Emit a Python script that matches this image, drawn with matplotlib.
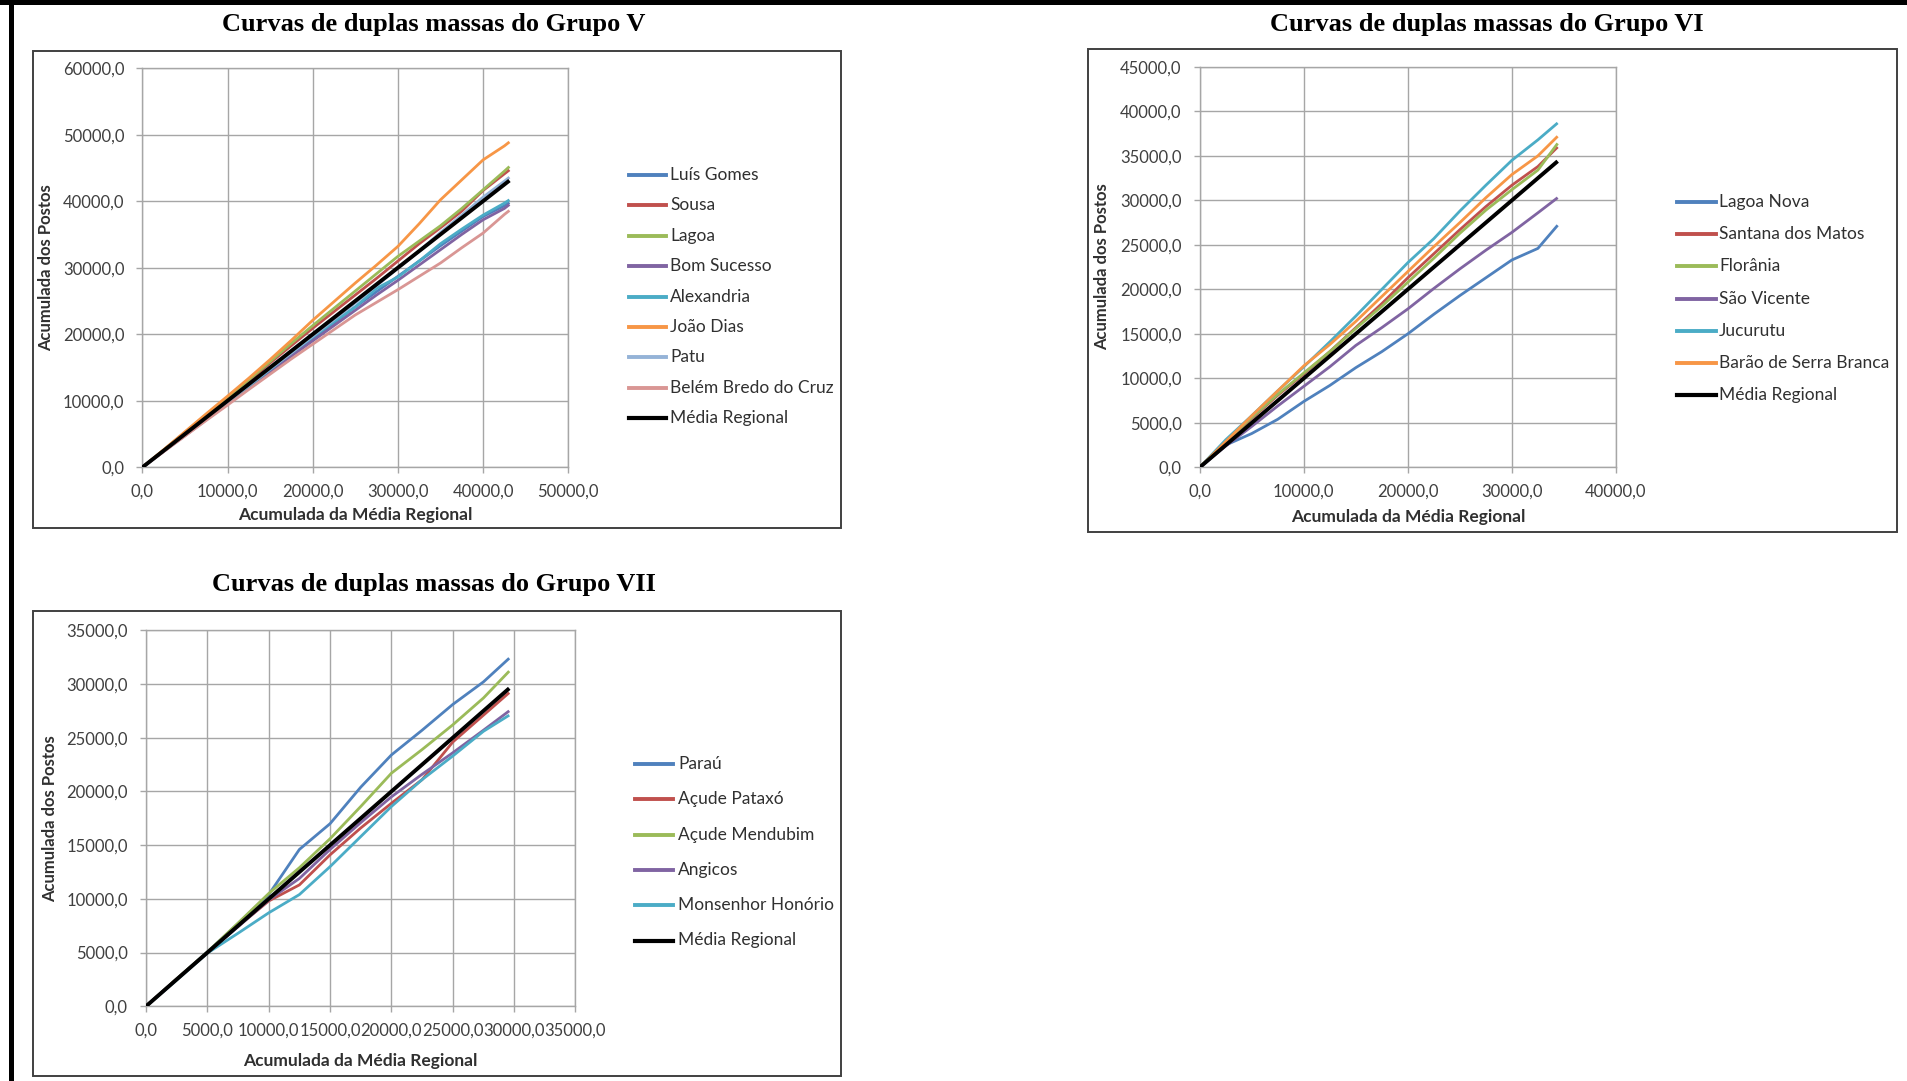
import matplotlib.pyplot as plt
from matplotlib.lines import Line2D
from matplotlib.patches import Rectangle
from matplotlib.ticker import FuncFormatter, MultipleLocator

W, H = 1908, 1081
SANS = ['Lato', 'DejaVu Sans']
SERIF = ['Liberation Serif', 'DejaVu Serif']

# ---- Grupo V ----
x_v = [0, 2500, 5000, 7500, 10000, 12500, 15000, 17500, 20000, 22500,
       25000, 27500, 30000, 32500, 35000, 37500, 40000, 42500, 43100]
luis_gomes = [0, 2450, 4900, 7300, 9700, 12100, 14500, 16900, 19300, 21700,
              24100, 26400, 28700, 31000, 33300, 35500, 37700, 39300, 39800]
sousa = [0, 2550, 5200, 7800, 10350, 12950, 15700, 18300, 20900, 23400,
         25900, 28400, 31000, 33600, 36000, 38500, 41600, 44100, 44700]
lagoa = [0, 2600, 5250, 7900, 10500, 13150, 15900, 18650, 21300, 23900,
         26500, 29100, 31700, 34000, 36300, 38900, 41700, 44500, 45200]
bom_sucesso = [0, 2400, 4750, 7150, 9550, 11900, 14300, 16700, 19000, 21300,
               23600, 25900, 28100, 30400, 32700, 35000, 37200, 38900, 39500]
alexandria = [0, 2500, 4950, 7400, 9800, 12200, 14700, 17200, 19600, 21900,
              24100, 26900, 28600, 31000, 33600, 35800, 37900, 39700, 40200]
joao_dias = [0, 2650, 5350, 8050, 10700, 13400, 16200, 19100, 22100, 24900,
             27700, 30400, 33200, 36600, 40200, 43200, 46200, 48300, 48900]
patu = [0, 2400, 4800, 7300, 9800, 12300, 14800, 17200, 19700, 22200,
        24700, 27300, 29900, 32500, 35300, 37900, 40600, 43000, 43600]
belem = [0, 2350, 4700, 7050, 9350, 11700, 14000, 16300, 18500, 20700,
         22900, 24800, 26700, 28700, 30700, 33000, 35200, 38000, 38600]
media_v = [0, 2500, 5000, 7500, 10000, 12500, 15000, 17500, 20000, 22500,
           25000, 27500, 30000, 32500, 35000, 37500, 40000, 42500, 43100]
names_v = ['Luís Gomes', 'Sousa', 'Lagoa', 'Bom Sucesso', 'Alexandria',
           'João Dias', 'Patu', 'Belém Bredo do Cruz', 'Média Regional']
colors_v = ['#4F81BD', '#C0504D', '#9BBB59', '#8064A2', '#4BACC6',
            '#F79646', '#95B3D7', '#D99694', '#000000']

# ---- Grupo VI ----
x_vi = [0, 2500, 5000, 7500, 10000, 12500, 15000, 17500, 20000, 22500,
        25000, 27500, 30000, 32500, 34400]
lagoa_nova = [0, 2500, 3800, 5400, 7400, 9200, 11200, 13000, 15000, 17200,
              19300, 21300, 23300, 24600, 27200]
santana = [0, 2800, 5500, 8100, 10500, 13000, 15700, 18400, 21300, 24000,
           26700, 29300, 31700, 33800, 36000]
florania = [0, 2900, 5600, 8200, 10600, 13000, 15600, 18100, 20800, 23500,
            26300, 28900, 31200, 33400, 36400]
sao_vicente = [0, 2400, 4600, 6900, 9100, 11300, 13700, 15700, 17800, 20100,
               22300, 24400, 26400, 28600, 30300]
jucurutu = [0, 3100, 5800, 8600, 11300, 14100, 17000, 20000, 23000, 25700,
            28800, 31700, 34500, 36800, 38700]
barao = [0, 2900, 5800, 8600, 11400, 13800, 16400, 19200, 22000, 24800,
         27500, 30300, 32900, 35000, 37200]
media_vi = [0, 2500, 5000, 7500, 10000, 12500, 15000, 17500, 20000, 22500,
            25000, 27500, 30000, 32500, 34400]
names_vi = ['Lagoa Nova', 'Santana dos Matos', 'Florânia', 'São Vicente',
            'Jucurutu', 'Barão de Serra Branca', 'Média Regional']
colors_vi = ['#4F81BD', '#C0504D', '#9BBB59', '#8064A2', '#4BACC6',
             '#F79646', '#000000']

# ---- Grupo VII ----
x_vii = [0, 2500, 5000, 7500, 10000, 12500, 15000, 17500, 20000, 22500,
         25000, 27500, 29600]
parau = [0, 2550, 5050, 7700, 10400, 14600, 17000, 20400, 23400, 25700,
         28100, 30200, 32400]
pataxo = [0, 2550, 5000, 7450, 9800, 11300, 14100, 16600, 18900, 21100,
          24600, 27100, 29200]
mendubim = [0, 2550, 5050, 7750, 10500, 12900, 15600, 18600, 21700, 23900,
            26200, 28700, 31200]
angicos = [0, 2500, 5000, 7400, 9900, 11900, 14600, 17100, 19500, 21600,
           23600, 25700, 27500]
monsenhor = [0, 2450, 4950, 6800, 8700, 10400, 13000, 15800, 18600, 21100,
             23300, 25600, 27100]
media_vii = [0, 2500, 5000, 7500, 10000, 12500, 15000, 17500, 20000, 22500,
             25000, 27500, 29600]
names_vii = ['Paraú', 'Açude Pataxó', 'Açude Mendubim', 'Angicos',
             'Monsenhor Honório', 'Média Regional']
colors_vii = ['#4F81BD', '#C0504D', '#9BBB59', '#8064A2', '#4BACC6', '#000000']


def fx(px):
    return px / W


def fy(py):
    return 1 - py / H


fmt = FuncFormatter(lambda v, p: f'{v:.1f}'.replace('.', ','))

fig = plt.figure(figsize=(W / 100, H / 100), dpi=100)
fig.patch.set_facecolor('white')


def panel(title, tx, ty, box, area, x, series, names, colors,
          xmax, xstep, ymax, ystep, leg):
    # box around the chart
    bx0, by0, bx1, by1 = box
    fig.add_artist(Rectangle((fx(bx0), fy(by1)), fx(bx1 - bx0), (by1 - by0) / H,
                             transform=fig.transFigure, fill=False,
                             edgecolor='#404040', linewidth=1.4))
    fig.text(fx(tx), fy(ty), title, ha='center', va='center', family=SERIF,
             fontweight='bold', fontsize=19)
    ax0, ay0, ax1, ay1 = area
    ax = fig.add_axes([fx(ax0), fy(ay1), fx(ax1 - ax0), (ay1 - ay0) / H])
    for s, c in zip(series, colors):
        lw = 2.8 if c == '#000000' else 2.0
        z = 5 if c == '#000000' else 3
        ax.plot(x, s, color=c, lw=lw, zorder=z, solid_capstyle='butt')
    ax.set_xlim(0, xmax)
    ax.set_ylim(0, ymax)
    ax.xaxis.set_major_locator(MultipleLocator(xstep))
    ax.yaxis.set_major_locator(MultipleLocator(ystep))
    ax.xaxis.set_major_formatter(fmt)
    ax.yaxis.set_major_formatter(fmt)
    ax.grid(True, color='#A6A6A6', lw=1.0)
    ax.set_axisbelow(True)
    for sp in ax.spines.values():
        sp.set_color('#A6A6A6')
        sp.set_linewidth(1.0)
    ax.tick_params(colors='#A6A6A6', length=4, width=1.0, labelcolor='#404040',
                   labelsize=12, direction='out')
    ax.tick_params(axis='y', pad=9)
    ax.tick_params(axis='x', pad=8)
    for t in ax.get_xticklabels() + ax.get_yticklabels():
        t.set_family(SANS)
    fig.text(fx((ax0 + ax1) / 2), fy(leg['xlab_y']), 'Acumulada da Média Regional',
             ha='center', va='center', family=SANS, fontweight='bold',
             fontsize=12.5, color='#303030')
    fig.text(fx(leg['ylab_x']), fy((ay0 + ay1) / 2), 'Acumulada dos Postos',
             ha='center', va='center', rotation=90, family=SANS,
             fontweight='bold', fontsize=12, color='#303030')
    # legend
    for i, (n, c) in enumerate(zip(names, colors)):
        yy = leg['y0'] + i * leg['dy']
        lw = 3.0 if c == '#000000' else 2.8
        fig.add_artist(Line2D([fx(leg['l0']), fx(leg['l1'])], [fy(yy), fy(yy)],
                              transform=fig.transFigure, color=c, lw=lw))
        fig.text(fx(leg['t']), fy(yy), n, ha='left', va='center', family=SANS,
                 fontsize=12.5, color='#303030')
    return ax


panel('Curvas de duplas massas do Grupo V', 434, 24, (33, 51, 841, 528),
      (142.4, 68.1, 568.2, 467.3), x_v,
      [luis_gomes, sousa, lagoa, bom_sucesso, alexandria, joao_dias, patu,
       belem, media_v], names_v, colors_v, 50000, 10000, 60000, 10000,
      dict(l0=629, l1=666, t=670, y0=175, dy=30.4, xlab_y=515, ylab_x=46))

panel('Curvas de duplas massas do Grupo VI', 1487, 24, (1088, 49, 1897, 532),
      (1199.8, 66.9, 1615.9, 467.3), x_vi,
      [lagoa_nova, santana, florania, sao_vicente, jucurutu, barao, media_vi],
      names_vi, colors_vi, 40000, 10000, 45000, 5000,
      dict(l0=1677, l1=1716, t=1719, y0=202, dy=32.2, xlab_y=517, ylab_x=1102))

panel('Curvas de duplas massas do Grupo VII', 434, 584, (33, 611, 841, 1076),
      (146, 630.3, 575.5, 1006.3), x_vii,
      [parau, pataxo, mendubim, angicos, monsenhor, media_vii],
      names_vii, colors_vii, 35000, 5000, 35000, 5000,
      dict(l0=635, l1=673, t=678, y0=764, dy=35.3, xlab_y=1061, ylab_x=50))

# outer frame lines (top and left)
fig.add_artist(Rectangle((0, fy(5)), 1, 5 / H, transform=fig.transFigure,
                         color='black', lw=0))
fig.add_artist(Rectangle((fx(9), 0), 5 / W, 1, transform=fig.transFigure,
                         color='black', lw=0))

fig.savefig('out.png', dpi=100)
